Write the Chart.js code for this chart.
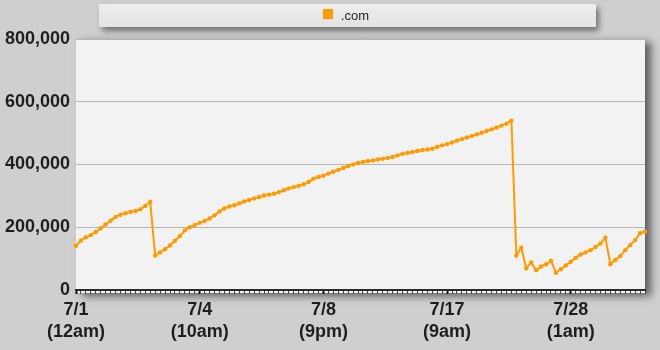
<!DOCTYPE html>
<html>
<head>
<meta charset="utf-8">
<script src="https://cdn.jsdelivr.net/npm/chart.js@4"></script>
<style>
  html, body { margin: 0; padding: 0; background: #cfcfcf; }
  #wrap { width: 660px; height: 350px; }
</style>
</head>
<body>
<div id="wrap"><canvas id="trafficChart" width="660" height="350"></canvas></div>
<script>
const seriesName = ".com";

// one value per sample
const visits = [
  141000, 158000, 168000, 175000, 185000, 197000, 209000, 221000,
  233000, 240000, 245000, 249000, 252000, 257000, 268000, 281000,
  110000,
  120000, 130000, 142000, 157000, 172000, 190000, 200000, 207000,
  214000, 220000, 228000, 238000, 250000, 260000, 266000, 270000,
  276000, 282000, 287000, 292000, 296000, 301000, 304000, 307000,
  312000, 318000, 324000, 328000, 332000, 337000, 344000, 355000,
  360000, 364000, 371000, 377000, 383000, 389000, 395000, 400000,
  405000, 408000, 411000, 413000, 416000, 418000, 421000, 424000,
  429000, 434000, 437000, 440000, 443000, 446000, 448000, 450000,
  456000, 461000, 465000, 470000, 476000, 481000, 486000, 491000,
  496000, 501000, 507000, 512000, 518000, 524000, 530000, 540000,
  110000, 135000, 69000, 88000, 63000, 75000, 82000, 93000,
  55000, 66000, 78000, 90000, 103000, 113000, 120000, 127000,
  137000, 148000, 167000, 82000, 96000, 108000, 127000, 143000,
  159000, 181000, 186000
];

// which samples carry a date label
const tickIndexes = [0, 25, 50, 75, 100];
const tickLabels = [
  ["7/1", "(12am)"],
  ["7/4", "(10am)"],
  ["7/8", "(9pm)"],
  ["7/17", "(9am)"],
  ["7/28", "(1am)"]
];

const yMin = 0;
const yMax = 800000;
const yStep = 200000;

let labels = visits.map(function(v, i){ return i; });

// panel + legend box with shadows
const backdrop = {
  id: "backdrop",
  beforeDraw(chart){
    let ctx = chart.ctx;
    let a = chart.chartArea;
    ctx.save();
    ctx.fillStyle = "#cfcfcf";
    ctx.fillRect(0, 0, chart.width, chart.height);

    // legend box
    ctx.shadowColor = "rgba(0,0,0,0.45)";
    ctx.shadowBlur = 6;
    ctx.shadowOffsetX = 3;
    ctx.shadowOffsetY = 4;
    let g = ctx.createLinearGradient(0, 4, 0, 27);
    g.addColorStop(0, "#eeeeee");
    g.addColorStop(1, "#e2e2e2");
    ctx.fillStyle = g;
    ctx.fillRect(99, 4, 497, 23);

    // plot panel
    ctx.shadowColor = "rgba(0,0,0,0.55)";
    ctx.shadowBlur = 8;
    ctx.shadowOffsetX = 6;
    ctx.shadowOffsetY = 3;
    ctx.fillStyle = "#f2f2f2";
    ctx.fillRect(a.left, a.top, a.right - a.left, a.bottom - a.top + 3);
    ctx.restore();

    // legend entry
    let ds = chart.data.datasets[0];
    ctx.save();
    ctx.fillStyle = ds.borderColor;
    ctx.fillRect(323, 9, 10, 10);
    ctx.fillStyle = "#222222";
    ctx.font = "13px 'Liberation Sans', Arial, sans-serif";
    ctx.textBaseline = "alphabetic";
    ctx.fillText(ds.label, 341, 19.5);
    ctx.restore();
  }
};

let ctx = document.getElementById("trafficChart");
new Chart(ctx, {
  type: "line",
  data: {
    labels: labels,
    datasets: [{
      label: seriesName,
      data: visits,
      borderColor: "#ff9a00",
      backgroundColor: "#ff9a00",
      borderWidth: 2,
      pointRadius: 2.2,
      pointBorderWidth: 0,
      pointBackgroundColor: "#ff9a00",
      tension: 0
    }]
  },
  options: {
    responsive: false,
    animation: false,
    layout: { padding: { top: 39, right: 15, left: 0, bottom: 0 } },
    plugins: {
      legend: { display: false },
      tooltip: { enabled: false }
    },
    scales: {
      x: {
        type: "category",
        offset: false,
        afterFit: function(scale){ scale.height = 60; },
        border: { display: true, color: "#2a2a2a", width: 2 },
        grid: {
          drawOnChartArea: false,
          drawTicks: true,
          tickLength: 4,
          tickColor: function(c){
            return tickIndexes.indexOf(c.index) >= 0 ? "#111111" : "#444444";
          },
          tickWidth: function(c){
            return tickIndexes.indexOf(c.index) >= 0 ? 2 : 1;
          }
        },
        ticks: {
          autoSkip: false,
          maxRotation: 0,
          minRotation: 0,
          padding: 6,
          color: "#1e1e1e",
          font: { family: "'Liberation Sans', Arial, sans-serif", size: 18, weight: "bold", lineHeight: 1.17 },
          callback: function(value, index){
            let k = tickIndexes.indexOf(index);
            return k >= 0 ? tickLabels[k] : "";
          }
        }
      },
      y: {
        min: yMin,
        max: yMax,
        afterFit: function(scale){ scale.width = 76; },
        border: { display: false },
        grid: {
          color: "#b6b6b6",
          lineWidth: 1,
          drawTicks: false
        },
        ticks: {
          stepSize: yStep,
          padding: 6,
          color: "#1e1e1e",
          font: { family: "'Liberation Sans', Arial, sans-serif", size: 18, weight: "bold" },
          callback: function(v){ return v.toLocaleString("en-US"); }
        }
      }
    }
  },
  plugins: [backdrop]
});
</script>
</body>
</html>
